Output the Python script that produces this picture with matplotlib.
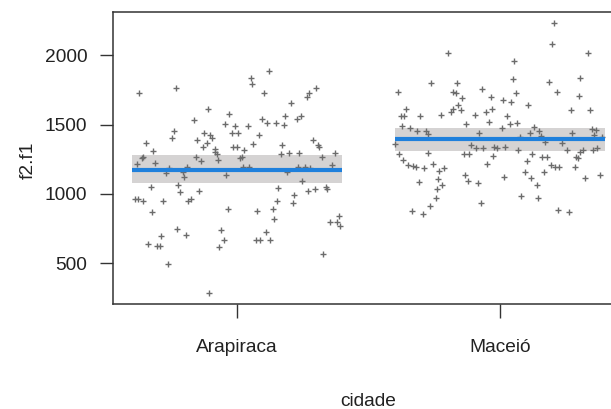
import numpy as np
import matplotlib
matplotlib.use("Agg")
import matplotlib.pyplot as plt

# Donnees

cidades = ["Arapiraca", "Maceió"]

# decalage horizontal (jitter) et valeur f2.f1 de chaque point
jit_arapiraca = [-0.371, -0.232, -0.111, -0.163, -0.030, -0.046, -0.009, -0.238, -0.248, -0.125,
                 -0.103, -0.094, -0.151, -0.115, -0.130, -0.083, -0.020, 0.003, -0.014, -0.001,
                 -0.345, -0.318, -0.356, -0.362, -0.381, -0.312, -0.156, -0.137, -0.084, -0.077,
                 -0.071, -0.257, -0.270, -0.189, -0.204, -0.202, -0.042, -0.328, -0.223, -0.217,
                 -0.143, -0.388, -0.375, -0.356, -0.280, -0.185, -0.175, -0.035, -0.324, -0.227,
                 -0.194, -0.289, -0.061, -0.051, -0.067, -0.340, -0.305, -0.293, -0.264, -0.105,
                 0.122, 0.052, 0.057, 0.104, 0.302, 0.275, 0.265, 0.205, 0.094, 0.114,
                 0.147, 0.180, 0.184, 0.227, 0.242, 0.041, 0.084, 0.290, 0.307, 0.313,
                 0.061, 0.028, 0.172, 0.199, 0.236, 0.373, 0.167, 0.018, 0.011, 0.324,
                 0.360, 0.024, 0.046, 0.191, 0.233, 0.259, 0.278, 0.248, 0.157, 0.270,
                 0.297, 0.338, 0.343, 0.216, 0.152, 0.212, 0.077, 0.136, 0.142, 0.387,
                 0.355, 0.381, 0.393, 0.109, 0.072, 0.089, 0.125, 0.328]
val_arapiraca = [1727, 1767, 1613, 1534, 1575, 1503, 1491, 1452, 1402, 1442,
                 1424, 1406, 1392, 1368, 1341, 1322, 1442, 1442, 1341, 1341,
                 1370, 1307, 1269, 1258, 1216, 1226, 1269, 1238, 1305, 1289,
                 1245, 1185, 1149, 1197, 1161, 1125, 1137, 1053, 1065, 1012,
                 1024, 962, 962, 952, 952, 952, 962, 892, 870, 747,
                 706, 697, 738, 668, 615, 637, 625, 625, 495, 284,
                 1887, 1839, 1796, 1727, 1767, 1727, 1702, 1654, 1541, 1510,
                 1510, 1500, 1563, 1541, 1563, 1491, 1428, 1390, 1354, 1337,
                 1359, 1317, 1356, 1298, 1294, 1294, 1286, 1269, 1258, 1269,
                 1209, 1197, 1197, 1157, 1193, 1193, 1185, 1096, 1045, 1024,
                 1034, 1048, 1036, 993, 952, 933, 880, 890, 820, 839,
                 800, 800, 767, 728, 668, 668, 668, 565]

jit_maceio = [-0.197, -0.261, -0.165, -0.389, -0.180, -0.168, -0.143, -0.068, -0.357, -0.378,
              -0.364, -0.304, -0.223, -0.187, -0.178, -0.161, -0.149, -0.095, -0.053, -0.128,
              -0.373, -0.342, -0.314, -0.282, -0.273, -0.079, -0.399, -0.111, -0.091, -0.064,
              -0.275, -0.383, -0.136, -0.117, -0.368, -0.351, -0.330, -0.321, -0.289, -0.254,
              -0.231, -0.213, -0.048, -0.309, -0.234, -0.219, -0.238, -0.244, -0.133, -0.123,
              -0.085, -0.073, -0.266, -0.336, -0.294,
              0.204, 0.199, 0.336, 0.054, 0.049, 0.186, 0.305, 0.060, 0.216, 0.299,
              -0.035, 0.011, 0.043, 0.108, -0.029, 0.269, 0.342, 0.027, -0.042, 0.037,
              0.064, 0.006, 0.129, 0.149, 0.114, 0.156, 0.273, 0.350, 0.365, 0.359,
              0.076, 0.170, -0.022, -0.013, 0.019, 0.070, 0.254, 0.304, 0.315, 0.353,
              0.368, 0.123, 0.237, -0.025, 0.160, 0.178, 0.289, 0.295, 0.103, 0.193,
              0.210, 0.225, 0.284, 0.016, 0.096, 0.166, 0.118, 0.140, 0.322, 0.380,
              0.080, 0.146, 0.219, 0.262, 0.386]
val_maceio = [2019, 1799, 1799, 1738, 1738, 1727, 1693, 1758, 1613, 1563,
              1563, 1563, 1572, 1594, 1613, 1642, 1606, 1572, 1594, 1503,
              1491, 1478, 1452, 1452, 1431, 1440, 1361, 1354, 1334, 1334,
              1294, 1285, 1289, 1289, 1245, 1209, 1204, 1197, 1190, 1216,
              1166, 1185, 1216, 1084, 1106, 1065, 1034, 973, 1137, 1096,
              1077, 933, 911, 880, 854,
              2236, 2082, 2019, 1960, 1830, 1810, 1837, 1727, 1738, 1707,
              1698, 1678, 1666, 1642, 1613, 1606, 1606, 1563, 1522, 1503,
              1510, 1474, 1481, 1452, 1438, 1418, 1438, 1469, 1462, 1426,
              1409, 1373, 1341, 1330, 1341, 1317, 1317, 1305, 1317, 1317,
              1330, 1289, 1366, 1276, 1269, 1269, 1269, 1258, 1238, 1209,
              1197, 1197, 1197, 1125, 1157, 1157, 1115, 1065, 1115, 1137,
              986, 973, 882, 870, 1413]

# effet estime et intervalle de confiance
fit = [1173, 1394]
lower = [1081, 1310]
upper = [1281, 1478]

yticks = [500, 1000, 1500, 2000]

# Figure

plt.rcParams['font.family'] = ['Liberation Sans', 'DejaVu Sans']
fig = plt.figure(figsize=(6.11, 4.09), dpi=100)
# l'axe depasse a droite : l'image originale est coupee
ax = fig.add_axes([113 / 611, 1 - 304 / 409, (624 - 113) / 611, (304 - 12) / 409])

pos = np.arange(1, len(cidades) + 1)
half = 0.4
for i, p in enumerate(pos):
    ax.fill_between([p - half, p + half], lower[i], upper[i], color='#d5d3d3', lw=0, zorder=1)
    ax.plot([p - half, p + half], [fit[i], fit[i]], color='#1f80dc', lw=3, zorder=3,
            solid_capstyle='butt')

for p, jit, val in [(pos[0], jit_arapiraca, val_arapiraca), (pos[1], jit_maceio, val_maceio)]:
    ax.plot(p + np.array(jit), val, ls='none', marker='+', ms=3.8, mew=1.0,
            color='#6c6c6c', zorder=2)

ax.set_xlim(1 - 124 / 263, 2 + 124 / 263)
ax.set_ylim(207, 2312)
ax.set_xticks(pos)
ax.set_xticklabels(cidades)
ax.set_yticks(yticks)
ax.set_yticklabels([str(t) for t in yticks])

for s in ax.spines.values():
    s.set_color('#333333')
    s.set_linewidth(1.1)
ax.tick_params(axis='x', length=10, width=1, color='#333333', pad=15,
               labelsize=13.8, labelcolor='#222222')
ax.tick_params(axis='y', length=9.5, width=1, color='#333333', pad=9,
               labelsize=13.8, labelcolor='#222222')

# titre de l'axe x centre sur le cadre complet (coupe a droite)
fig.text(368 / 611, 1 - 406 / 409, 'cidade', ha='center', va='baseline',
         fontsize=13.8, color='#222222')
fig.text(28 / 611, 1 - 160 / 409, 'f2.f1', ha='center', va='center', rotation=90,
         fontsize=13.8, color='#222222')

fig.savefig('out.png', dpi=100)
